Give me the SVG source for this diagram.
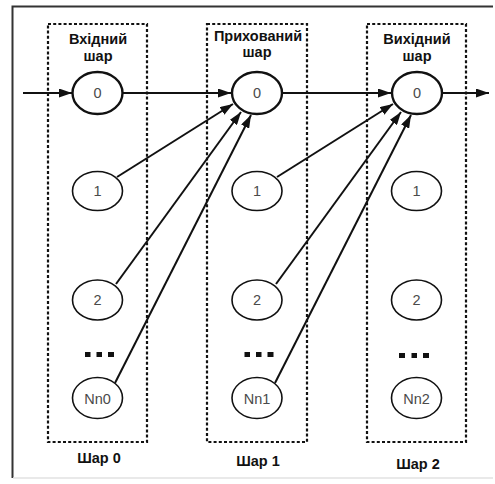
<svg xmlns="http://www.w3.org/2000/svg" width="495" height="484" viewBox="0 0 495 484">
<style>
.box{fill:none;stroke:#111;stroke-width:2.2;stroke-dasharray:3 2.2}
.n{fill:#fff;stroke:#111;stroke-width:1.6}
.n0{fill:#fff;stroke:#111;stroke-width:2.4}
.nt{font-family:"Liberation Sans",Arial,sans-serif;font-size:14.5px;fill:#4a4a4a;text-anchor:middle}
.lbl{font-family:"Liberation Sans",Arial,sans-serif;font-size:14.5px;font-weight:bold;fill:#111;text-anchor:middle}
.c{fill:none;stroke:#111;stroke-width:2;marker-end:url(#ah)}
.dot{fill:#111}
</style>
<defs>
<marker id="ah" viewBox="0 0 13 9" refX="13" refY="4.5" markerWidth="13" markerHeight="9" markerUnits="userSpaceOnUse" orient="auto">
<path d="M0,0 L13,4.5 L0,9 Z" fill="#111"/>
</marker>
</defs>
<rect x="0" y="0" width="495" height="484" fill="#fff"/>
<path d="M493,6.5 H12.5 V478" fill="none" stroke="#333" stroke-width="2"/>
<path d="M13,478 H493" fill="none" stroke="#e2e2e2" stroke-width="1.5"/>

<g id="layer0">
<rect class="box" x="48" y="24" width="99" height="418"/>
<text class="lbl" x="98" y="44">Вхідний</text>
<text class="lbl" x="98" y="61">шар</text>
<text class="lbl" x="99" y="463">Шар 0</text>
</g>
<g id="layer1">
<rect class="box" x="207" y="24" width="100" height="418"/>
<text class="lbl" x="258" y="41">Прихований</text>
<text class="lbl" x="257" y="57">шар</text>
<text class="lbl" x="258" y="466">Шар 1</text>
</g>
<g id="layer2">
<rect class="box" x="367" y="24" width="99" height="418"/>
<text class="lbl" x="417" y="43.5">Вихідний</text>
<text class="lbl" x="417" y="61">шар</text>
<text class="lbl" x="418" y="469">Шар 2</text>
</g>

<g id="connectors">
<line class="c" x1="23" y1="93" x2="72" y2="93"/>
<line class="c" x1="123" y1="93" x2="231" y2="93"/>
<line class="c" x1="283" y1="93" x2="391" y2="93"/>
<line class="c" x1="442" y1="93" x2="489" y2="93"/>
<line class="c" x1="117" y1="177" x2="233" y2="104"/>
<line class="c" x1="116" y1="284" x2="241" y2="112"/>
<line class="c" x1="115" y1="383" x2="251" y2="115"/>
<line class="c" x1="277" y1="177" x2="393" y2="104"/>
<line class="c" x1="276" y1="284" x2="401" y2="112"/>
<line class="c" x1="275" y1="383" x2="411" y2="115"/>
</g>

<g id="n0_0"><ellipse class="n0" cx="97.5" cy="93" rx="25" ry="21"/><text class="nt" x="97.5" y="98">0</text></g>
<g id="n0_1"><ellipse class="n" cx="97.5" cy="191" rx="25" ry="19.5"/><text class="nt" x="97.5" y="196">1</text></g>
<g id="n0_2"><ellipse class="n" cx="97.5" cy="300" rx="25" ry="20"/><text class="nt" x="97.5" y="305">2</text></g>
<g id="n0_dots"><rect class="dot" x="85" y="352" width="5.5" height="5"/><rect class="dot" x="96.5" y="352" width="5.5" height="5"/><rect class="dot" x="108" y="352" width="6" height="5"/></g>
<g id="n0_n"><ellipse class="n" cx="97.5" cy="398" rx="25" ry="20.5"/><text class="nt" x="97.5" y="403.5">Nn0</text></g>

<g id="n1_0"><ellipse class="n0" cx="257" cy="93" rx="25" ry="21"/><text class="nt" x="257" y="98">0</text></g>
<g id="n1_1"><ellipse class="n" cx="257" cy="191" rx="25" ry="19.5"/><text class="nt" x="257" y="196">1</text></g>
<g id="n1_2"><ellipse class="n" cx="257" cy="300" rx="25" ry="20"/><text class="nt" x="257" y="305">2</text></g>
<g id="n1_dots"><rect class="dot" x="244.5" y="352" width="5.5" height="5"/><rect class="dot" x="256" y="352" width="5.5" height="5"/><rect class="dot" x="267.5" y="352" width="6" height="5"/></g>
<g id="n1_n"><ellipse class="n" cx="257" cy="398" rx="25" ry="20.5"/><text class="nt" x="257" y="403.5">Nn1</text></g>

<g id="n2_0"><ellipse class="n0" cx="417" cy="93" rx="25" ry="21"/><text class="nt" x="417" y="98">0</text></g>
<g id="n2_1"><ellipse class="n" cx="416.5" cy="191" rx="25" ry="19.5"/><text class="nt" x="416.5" y="196">1</text></g>
<g id="n2_2"><ellipse class="n" cx="416.5" cy="300" rx="25" ry="20"/><text class="nt" x="416.5" y="305">2</text></g>
<g id="n2_dots"><rect class="dot" x="399" y="353" width="6" height="5"/><rect class="dot" x="411.5" y="353" width="5.5" height="5"/><rect class="dot" x="423" y="353" width="6" height="5"/></g>
<g id="n2_n"><ellipse class="n" cx="416.5" cy="398" rx="25" ry="20.5"/><text class="nt" x="416.5" y="403.5">Nn2</text></g>
</svg>
